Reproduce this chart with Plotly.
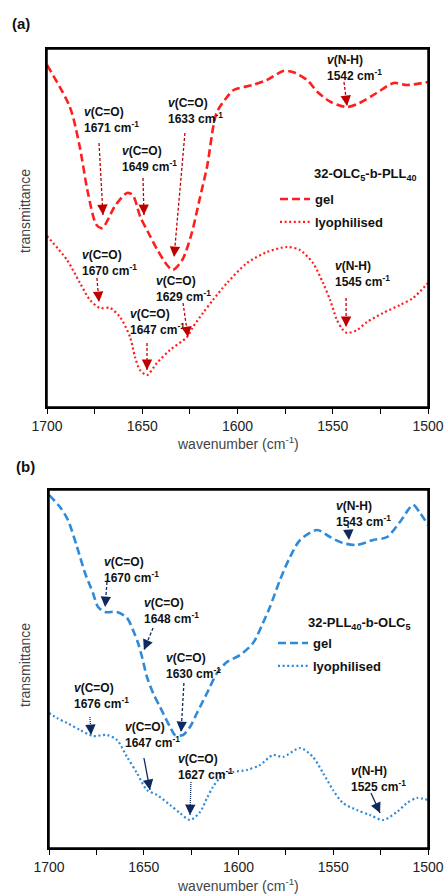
import math
import plotly.graph_objects as go

W, H = 447, 895
FONT = "Arial, 'Liberation Sans', sans-serif"

# ---------------- data: panel (a) 32-OLC5-b-PLL40 ----------------
a_gel_wn = [1700, 1688, 1683, 1678.5, 1674, 1671, 1664, 1658, 1655, 1651, 1647, 1642,
            1637, 1634, 1629, 1624, 1620, 1616, 1611, 1605.5, 1602, 1592, 1584.5, 1576,
            1571, 1563.5, 1558, 1551, 1542.5, 1536, 1527, 1518, 1511, 1500]
a_gel_t = [342, 300, 262, 214, 182, 179, 202, 214, 212, 190, 175, 157,
           142, 137, 147, 174, 207, 240, 294, 310, 317, 322, 327, 336,
           335, 327, 315, 305, 300, 304, 314, 324, 322, 325]
a_lyo_wn = [1700, 1689.5, 1682.7, 1677.4, 1672.2, 1666.9, 1661.7, 1656.4, 1653.8, 1651.2,
            1647.5, 1642.3, 1635.4, 1626.5, 1623.4, 1618.1, 1612.9, 1605.5, 1595, 1584.5,
            1574, 1567.2, 1560.4, 1555.1, 1551.4, 1547.8, 1545, 1542.5, 1537.3, 1532,
            1523.6, 1514.7, 1507.9, 1500]
a_lyo_t = [171, 147, 124, 107, 99, 99, 90, 70, 50, 37,
           32, 44, 57, 70, 80, 94, 107, 124, 144, 155,
           160, 157, 144, 124, 107, 87, 78, 74, 77, 85,
           94, 102, 109, 124]

# peak labels (a)
a_band = ["C=O", "C=O", "C=O", "N-H", "C=O", "C=O", "C=O", "N-H"]
a_peak = [1671, 1649, 1633, 1542, 1670, 1647, 1629, 1545]
a_tip_wn = [1670.6, 1649.1, 1633.3, 1542.5, 1672.7, 1647.5, 1626.0, 1543.0]
a_tip_t = [192, 192, 150, 301, 105, 37, 70, 80]
a_tail_wn = [1672.7, 1649.6, 1627.6, 1544.1, 1673.8, 1647.5, 1628.6, 1543.0]
a_tail_t = [264, 229, 274, 325, 129, 64, 104, 109]
a_lab_wn = [1681.6, 1661.7, 1637.5, 1554.1, 1682.7, 1657.5, 1643.8, 1549.9]
a_lab_t = [287.5, 248.5, 296, 339, 144.5, 85, 118.5, 133]

# ---------------- data: panel (b) 32-PLL40-b-OLC5 ----------------
b_gel_wn = [1700, 1694.2, 1690, 1685.2, 1681, 1676.8, 1674.1, 1670.4, 1664.1, 1658.8,
            1655.7, 1653, 1650.9, 1648.3, 1645.1, 1641.4, 1636.1, 1633.5, 1629.3, 1625.6,
            1621.9, 1616.6, 1611.3, 1606.1, 1599.2, 1592.3, 1587.1, 1583.4, 1578.1, 1572.8,
            1567.5, 1558.6, 1551.7, 1544.9, 1537.5, 1529, 1521.6, 1514.8, 1507.9, 1504.2, 1500]
b_gel_t = [353, 341, 328, 301, 275, 255, 241, 236, 236, 230,
           218, 205, 191, 171, 155, 141, 121, 113, 113, 121,
           135, 155, 175, 186, 193, 205, 225, 241, 268, 291,
           308, 318, 311, 305, 303, 308, 311, 326, 343, 335, 323]
b_lyo_wn = [1700, 1695.8, 1690.5, 1683.6, 1676.8, 1669.4, 1664.1, 1658.8, 1653.6, 1648.3,
            1643, 1636.1, 1630.9, 1625.6, 1620.3, 1616.6, 1613.5, 1608.2, 1602.9, 1595.5,
            1588.7, 1581.8, 1576.5, 1567.5, 1560.7, 1555.4, 1550.1, 1544.9, 1537.5, 1530.6,
            1523.7, 1516.4, 1511.1, 1505.8, 1500]
b_lyo_t = [135, 130, 125, 118, 112, 113, 108, 91, 75, 58,
           53, 43, 35, 28, 36, 50, 61, 73, 76, 78,
           83, 93, 91, 100, 91, 75, 58, 45, 38, 33,
           28, 36, 45, 50, 48]

b_band = ["N-H", "C=O", "C=O", "C=O", "C=O", "C=O", "C=O", "N-H"]
b_peak = [1543, 1670, 1648, 1630, 1676, 1647, 1627, 1525]
b_tip_wn = [1541.7, 1670.4, 1649.9, 1630.3, 1677.8, 1646.7, 1625.6, 1525.3]
b_tip_t = [308, 241, 198, 116, 113, 58, 33, 35]
b_tail_wn = [1542.2, 1669.4, 1645.1, 1628.8, 1678.4, 1649.9, 1625.1, 1530.1]
b_tail_t = [323, 266, 220, 165, 131, 90, 66, 55]
b_lab_wn = [1549.6, 1672.0, 1650.9, 1639.3, 1687.9, 1661.0, 1633.0, 1541.7]
b_lab_t = [334.5, 278, 237, 182.5, 152, 113, 81.5, 69]

tick_vals = [1700, 1675, 1650, 1625, 1600, 1575, 1550, 1525, 1500]
tick_text = ["1700", "", "1650", "", "1600", "", "1550", "", "1500"]
XR = [1700, 1500]
YR = [0, 358]

# ---------------- styling ----------------
RED = "#FF1E1E"
RED_ARROW = "#C00000"
BLUE = "#2F8AD8"
BLUE_ARROW = "#0F2A5E"

a_arrow_dash = ["3px,2px"] * 8
b_arrow_dash = ["3px,2px", "3px,2px", "3px,2px", "3px,2px", "1px,1px", "solid", "1px,1px", "solid"]


def px(x):
    return x / W


def py(y):
    return 1 - y / H


# panel geometry (pixels)
A_BOX = (47, 428, 49, 407)
B_BOX = (49, 428, 490, 848)

fig = go.Figure()

fig.add_trace(go.Scatter(x=a_gel_wn, y=a_gel_t, mode="lines", name="<b>gel</b>",
                         line=dict(color=RED, width=2.6, dash="8px,4px", shape="spline", smoothing=0.8),
                         xaxis="x", yaxis="y", legend="legend", legendgroup="a1", hoverinfo="skip"))
fig.add_trace(go.Scatter(x=a_lyo_wn, y=a_lyo_t, mode="lines", name="<b>lyophilised</b>",
                         line=dict(color=RED, width=2.2, dash="2px,2.6px", shape="spline", smoothing=0.8),
                         xaxis="x", yaxis="y", legend="legend", legendgroup="a2", hoverinfo="skip"))
fig.add_trace(go.Scatter(x=b_gel_wn, y=b_gel_t, mode="lines", name="<b>gel</b>",
                         line=dict(color=BLUE, width=2.6, dash="8px,4px", shape="spline", smoothing=0.8),
                         xaxis="x2", yaxis="y2", legend="legend2", legendgroup="b1", hoverinfo="skip"))
fig.add_trace(go.Scatter(x=b_lyo_wn, y=b_lyo_t, mode="lines", name="<b>lyophilised</b>",
                         line=dict(color=BLUE, width=2.2, dash="2px,2.6px", shape="spline", smoothing=0.8),
                         xaxis="x2", yaxis="y2", legend="legend2", legendgroup="b2", hoverinfo="skip"))

annotations = []
shapes = []

# plot frames (full box around each panel)
for xr, yr in [("x domain", "y domain"), ("x2 domain", "y2 domain")]:
    shapes.append(dict(type="rect", xref=xr, yref=yr, x0=0, x1=1, y0=0, y1=1,
                       line=dict(color="black", width=1.5), fillcolor="rgba(0,0,0,0)",
                       layer="above"))


def add_peaks(box, xref, yref, band, peak, tip_wn, tip_t, tail_wn, tail_t, lab_wn, lab_t, color, dashes):
    x0, x1, y0, y1 = box
    kx = (x1 - x0) / abs(XR[1] - XR[0])
    ky = (y1 - y0) / (YR[1] - YR[0])
    for i in range(len(peak)):
        annotations.append(dict(
            x=lab_wn[i], y=lab_t[i], xref=xref, yref=yref, showarrow=False,
            xanchor="left", yanchor="middle", align="left",
            text="<b><i>v</i>(%s)<br>%d cm<sup>-1</sup></b>" % (band[i], peak[i]),
            font=dict(family=FONT, size=12, color="#111111")))
        dash = dashes[i]
        shapes.append(dict(type="line", xref=xref, yref=yref,
                           x0=tail_wn[i], y0=tail_t[i], x1=tip_wn[i], y1=tip_t[i],
                           line=dict(color=color, width=1.3, dash=dash)))
        # arrow head: pixel direction from tip toward tail
        dxp = -(tail_wn[i] - tip_wn[i]) * kx
        dyp = -(tail_t[i] - tip_t[i]) * ky
        n = math.hypot(dxp, dyp) or 1
        L = 9
        annotations.append(dict(
            x=tip_wn[i], y=tip_t[i], xref=xref, yref=yref, text="", showarrow=True,
            ax=dxp / n * L, ay=dyp / n * L, arrowhead=2, arrowsize=1.6, arrowwidth=1.3,
            arrowcolor=color, standoff=0))


add_peaks(A_BOX, "x", "y", a_band, a_peak, a_tip_wn, a_tip_t, a_tail_wn, a_tail_t,
          a_lab_wn, a_lab_t, RED_ARROW, a_arrow_dash)
add_peaks(B_BOX, "x2", "y2", b_band, b_peak, b_tip_wn, b_tip_t, b_tail_wn, b_tail_t,
          b_lab_wn, b_lab_t, BLUE_ARROW, b_arrow_dash)

# panel letters, axis titles, legend titles
for txt, x, y in [("(a)", 10, 24), ("(b)", 14, 467)]:
    annotations.append(dict(x=px(x), y=py(y), xref="paper", yref="paper", showarrow=False,
                            xanchor="left", yanchor="middle", text="<b>%s</b>" % txt,
                            font=dict(family=FONT, size=15, color="#111111")))
for box, ty in [(A_BOX, 443), (B_BOX, 885)]:
    annotations.append(dict(x=px((box[0] + box[1]) / 2), y=py(ty), xref="paper", yref="paper",
                            showarrow=False, xanchor="center", yanchor="middle",
                            text="wavenumber (cm<sup>-1</sup>)",
                            font=dict(family=FONT, size=14, color="#444444")))
for cy in [211, 665]:
    annotations.append(dict(x=px(25), y=py(cy), xref="paper", yref="paper", showarrow=False,
                            xanchor="center", yanchor="middle", textangle=-90,
                            text="transmittance", font=dict(family=FONT, size=14, color="#444444")))
annotations.append(dict(x=px(312), y=py(175), xref="paper", yref="paper", showarrow=False,
                        xanchor="left", yanchor="middle",
                        text="<b>32-OLC<sub>5</sub>-b-PLL<sub>40</sub></b>",
                        font=dict(family=FONT, size=13, color="#111111")))
annotations.append(dict(x=px(306), y=py(623), xref="paper", yref="paper", showarrow=False,
                        xanchor="left", yanchor="middle",
                        text="<b>32-PLL<sub>40</sub>-b-OLC<sub>5</sub></b>",
                        font=dict(family=FONT, size=13, color="#111111")))


def xaxis(box, anchor):
    return dict(domain=[px(box[0]), px(box[1])], range=XR, anchor=anchor,
                tickmode="array", tickvals=tick_vals, ticktext=tick_text,
                ticks="outside", ticklen=5, tickwidth=1.3, tickcolor="black",
                showline=True, linecolor="black", linewidth=1.5, mirror=True,
                showgrid=False, zeroline=False, automargin=False,
                tickfont=dict(family=FONT, size=14, color="#222222"))


def yaxis(box, anchor):
    return dict(domain=[py(box[3]), py(box[2])], range=YR, anchor=anchor,
                showticklabels=False, ticks="", showline=True, linecolor="black",
                linewidth=1.5, mirror=True, showgrid=False, zeroline=False, automargin=False)


legend_common = dict(xanchor="left", yanchor="top", bgcolor="rgba(0,0,0,0)",
                     font=dict(family=FONT, size=13, color="#111111"),
                     tracegroupgap=3, itemwidth=30, borderwidth=0)

fig.update_layout(
    width=W, height=H, margin=dict(l=0, r=0, t=0, b=0, pad=0, autoexpand=False),
    paper_bgcolor="white", plot_bgcolor="white",
    xaxis=xaxis(A_BOX, "y"), yaxis=yaxis(A_BOX, "x"),
    xaxis2=xaxis(B_BOX, "y2"), yaxis2=yaxis(B_BOX, "x2"),
    showlegend=True,
    legend=dict(x=px(275), y=py(184), **legend_common),
    legend2=dict(x=px(273), y=py(628), **legend_common),
    annotations=annotations, shapes=shapes,
)

fig.write_html("out.html")
